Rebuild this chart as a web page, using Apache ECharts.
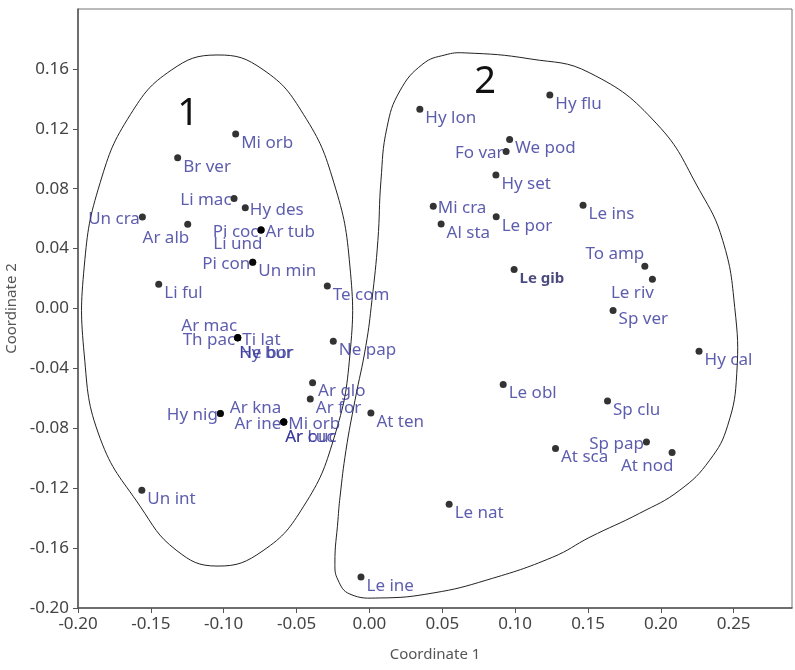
<!DOCTYPE html>
<html>
<head>
<meta charset="utf-8">
<script src="https://cdn.jsdelivr.net/npm/echarts@6/dist/echarts.min.js"></script>
<style>
  html, body { margin: 0; padding: 0; background: #ffffff; }
  #chart { width: 795px; height: 670px; }
</style>
</head>
<body>
<div id="chart"></div>
<script>
// ---- Data ----
const speciesNames = [
  'Mi orb', 'Br ver', 'Li mac', 'Hy des', 'Un cra', 'Ar alb', 'Ar tub', 'Pi coc', 'Li und',
  'Pi con', 'Un min', 'Te com', 'Li ful', 'Th pac', 'Ar mac', 'Ti lat', 'Ne bor', 'Hy bur',
  'Ne pap', 'Ar glo', 'Ar for', 'At ten', 'Hy nig', 'Ar kna', 'Ar ine', 'Mi orb', 'Ar buc', 'Ar cuc',
  'Un int',
  'Hy lon', 'Hy flu', 'We pod', 'Fo var', 'Hy set', 'Mi cra', 'Al sta', 'Le por', 'Le ins',
  'To amp', 'Le gib', 'Le riv', 'Sp ver', 'Hy cal', 'Le obl', 'Sp clu', 'Sp pap', 'At sca',
  'At nod', 'Le nat', 'Le ine'
];
const coord1 = [
  -0.0918, -0.1316, -0.0929, -0.0852, -0.1558, -0.1247, -0.0744, -0.0744, -0.0744,
  -0.0801, -0.0801, -0.0289, -0.1446, -0.0904, -0.0904, -0.0904, -0.0904, -0.0904,
  -0.0248, -0.0390, -0.0406, 0.0010, -0.1023, -0.1023, -0.0588, -0.0588, -0.0588, -0.0588,
  -0.1562,
  0.0346, 0.1238, 0.0962, 0.0938, 0.0868, 0.0438, 0.0492, 0.0870, 0.1466,
  0.1890, 0.0993, 0.1942, 0.1672, 0.2262, 0.0918, 0.1634, 0.1901, 0.1277,
  0.2077, 0.0547, -0.0058
];
const coord2 = [
  0.1165, 0.1007, 0.0735, 0.0673, 0.0611, 0.0562, 0.0525, 0.0525, 0.0525,
  0.0309, 0.0309, 0.0151, 0.0162, -0.0195, -0.0195, -0.0195, -0.0195, -0.0195,
  -0.0218, -0.0495, -0.0605, -0.0698, -0.0702, -0.0702, -0.0758, -0.0758, -0.0758, -0.0758,
  -0.1213,
  0.1331, 0.1425, 0.1129, 0.1049, 0.0891, 0.0682, 0.0565, 0.0613, 0.0689,
  0.0282, 0.0260, 0.0195, -0.0013, -0.0285, -0.0507, -0.0618, -0.0891, -0.0935,
  -0.0962, -0.1307, -0.1793
];
// label placement keys (style only)
const labelPlace = [
  'br', 'br', 'l', 'r', 'l', 'bl', 'r', 'l', 'bl',
  'l', 'br', 'br', 'br', 'l', 'tl', 'r', 'b', 'b',
  'br', 'br', 'br', 'br', 'l', 'ur', 'l', 'r', 'b', 'b',
  'br',
  'br', 'br', 'br', 'l', 'br', 'r', 'br', 'br', 'br',
  'tl', 'br', 'bl', 'br', 'br', 'br', 'br', 'l', 'br',
  'bl', 'br', 'br'
];
const xTicks = [-0.20, -0.15, -0.10, -0.05, 0.00, 0.05, 0.10, 0.15, 0.20, 0.25];
const yTicks = [-0.20, -0.16, -0.12, -0.08, -0.04, 0.00, 0.04, 0.08, 0.12, 0.16];
const groupNames = ['1', '2'];

// group outlines (hand-drawn loops), in data coordinates
const loop1X = [-0.1046, -0.0730, -0.0451, -0.0244, -0.0134, -0.0134, -0.0244, -0.0451, -0.0730, -0.1046, -0.1327, -0.1574, -0.1848, -0.1957, -0.1957, -0.1848, -0.1641, -0.1361];
const loop1Y = [0.1693, 0.1595, 0.1294, 0.0840, 0.0283, -0.0310, -0.0867, -0.1320, -0.1617, -0.1720, -0.1613, -0.1320, -0.0867, -0.0310, 0.0283, 0.0840, 0.1294, 0.1591];
const loop2X = [0.0655, 0.1101, 0.1513, 0.1972, 0.2267, 0.2425, 0.2507, 0.2521, 0.2459, 0.2335, 0.2130, 0.1855, 0.1513, 0.1259, 0.0806, 0.0436, 0.0072, -0.0134, -0.0216, -0.0237, -0.0216, -0.0202, -0.0161, -0.0099, -0.0024, 0.0017, 0.0058, 0.0079, 0.0120, 0.0209, 0.0367, 0.0518];
const loop2Y = [0.1707, 0.1667, 0.1573, 0.1233, 0.0787, 0.0453, 0.0007, -0.0433, -0.0780, -0.1013, -0.1213, -0.1367, -0.1527, -0.1660, -0.1813, -0.1900, -0.1933, -0.1907, -0.1813, -0.1700, -0.1413, -0.1260, -0.0947, -0.0613, -0.0247, 0.0053, 0.0453, 0.0853, 0.1207, 0.1453, 0.1633, 0.1693];
// ------------------------------------------------

const LABEL_COLOR = '#34349a';
const FONT = 'Noto Sans';
const placeStyles = {
  br: { position: 'right', dx: 0,  dy: 9 },
  r:  { position: 'right', dx: -1, dy: 2 },
  ur: { position: 'right', dx: 4,  dy: -5 },
  b:  { position: 'right', dx: -4, dy: 15 },
  l:  { position: 'left',  dx: 3,  dy: 2 },
  bl: { position: 'left',  dx: 7,  dy: 14 },
  tl: { position: 'left',  dx: 5,  dy: -12 }
};
const boldNames = { 'Le gib': true };

const points = speciesNames.map((n, i) => {
  const ps = placeStyles[labelPlace[i]];
  const lab = { position: ps.position, distance: 2 };
  if (boldNames[n]) { lab.fontWeight = 'bold'; lab.color = '#1d1d5c'; lab.fontSize = 15; }
  return { name: n, value: [coord1[i], coord2[i]], label: lab };
});

const chart = echarts.init(document.getElementById('chart'), null, { renderer: 'canvas' });

chart.setOption({
  animation: false,
  backgroundColor: '#ffffff',
  textStyle: { fontFamily: FONT },
  grid: { show: true, borderColor: '#777', borderWidth: 1, backgroundColor: 'transparent',
          left: 78, right: 3, top: 9, bottom: 62, containLabel: false, outerBoundsMode: 'none' },
  xAxis: {
    type: 'value', min: -0.20, max: 0.29, interval: 0.05,
    name: 'Coordinate 1', nameLocation: 'middle', nameGap: 39,
    nameTextStyle: { fontSize: 15, color: '#555', fontFamily: FONT },
    splitLine: { show: false },
    axisLine: { show: true, onZero: false, lineStyle: { color: '#555', width: 1.5 } },
    axisTick: { show: true, inside: false, length: 5, customValues: xTicks, lineStyle: { color: '#555' } },
    axisLabel: { customValues: xTicks, margin: 8, fontSize: 17, color: '#444', fontFamily: FONT,
      formatter: v => v.toFixed(2) }
  },
  yAxis: {
    type: 'value', min: -0.20, max: 0.20, interval: 0.04,
    name: 'Coordinate 2', nameLocation: 'middle', nameGap: 50, nameRotate: 90,
    nameTextStyle: { fontSize: 15, color: '#555', fontFamily: FONT },
    splitLine: { show: false },
    axisLine: { show: true, onZero: false, lineStyle: { color: '#555', width: 1.5 } },
    axisTick: { show: true, inside: false, length: 5, customValues: yTicks, lineStyle: { color: '#555' } },
    axisLabel: { customValues: yTicks, margin: 9, fontSize: 17, color: '#444', fontFamily: FONT,
      formatter: v => v.toFixed(2) }
  },
  series: [
    {
      type: 'scatter', name: 'species', data: points, symbol: 'circle', symbolSize: 7,
      itemStyle: { color: '#000' }, z: 3,
      label: { show: true, formatter: '{b}', fontSize: 17, color: LABEL_COLOR, fontFamily: FONT },
      labelLayout: function (params) {
        const ps = placeStyles[labelPlace[params.dataIndex]];
        return { dx: ps.dx, dy: ps.dy, hideOverlap: false };
      }
    }
  ]
});

// group outlines: convert the data-space outline through the chart's own scales
function loopPixels(xs, ys) {
  return xs.map((x, i) => chart.convertToPixel({ gridIndex: 0 }, [x, ys[i]]));
}
chart.setOption({
  graphic: [
    { id: 'loop1', type: 'polygon', z: 1, silent: true,
      shape: { points: loopPixels(loop1X, loop1Y), smooth: 0.45 },
      style: { fill: 'none', stroke: '#222', lineWidth: 1 } },
    { id: 'loop2', type: 'polygon', z: 1, silent: true,
      shape: { points: loopPixels(loop2X, loop2Y), smooth: 0.45 },
      style: { fill: 'none', stroke: '#222', lineWidth: 1 } },
    { id: 'g1', type: 'text', x: 188, y: 114, style: { text: groupNames[0], fontSize: 38, fill: '#111', fontFamily: FONT, align: 'center', verticalAlign: 'middle' } },
    { id: 'g2', type: 'text', x: 485, y: 82, style: { text: groupNames[1], fontSize: 38, fill: '#111', fontFamily: FONT, align: 'center', verticalAlign: 'middle' } }
  ]
});
</script>
</body>
</html>
